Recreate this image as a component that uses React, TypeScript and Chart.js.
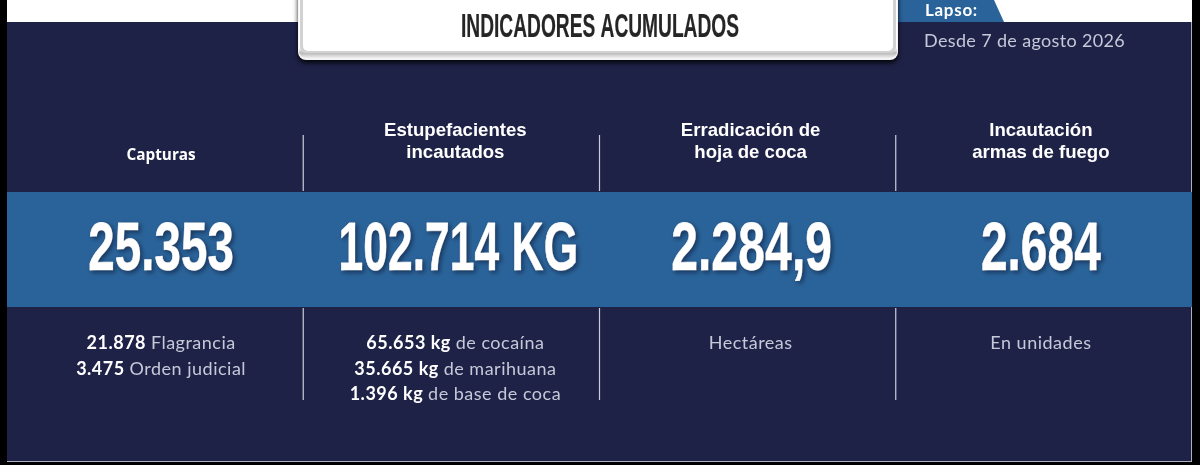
import React, { useEffect, useRef } from 'react';
import { Chart, registerables } from 'chart.js';

Chart.register(...registerables);

const categories = ['Capturas', 'Estupefacientes', 'Erradicación', 'Armas'];
const headerLines = [
  ['Capturas'],
  ['Estupefacientes', 'incautados'],
  ['Erradicación de', 'hoja de coca'],
  ['Incautación', 'armas de fuego'],
];
const totals = ['25.353', '102.714 KG', '2.284,9', '2.684'];
const detailLines = [
  [['21.878', 'Flagrancia'], ['3.475', 'Orden judicial']],
  [['65.653 kg', 'de cocaína'], ['35.665 kg', 'de marihuana'], ['1.396 kg', 'de base de coca']],
  [['', 'Hectáreas']],
  [['', 'En unidades']],
];
const chartTitle = 'INDICADORES ACUMULADOS';
const periodLabel = 'Lapso:';
const periodText = 'Desde 7 de agosto 2026';

// picture layout, y scale runs in page pixels
const bandRange = [192, 307];
const columnShift = [6, 4, 3, -3];
const totalShift = [0, 3, 1, 0];
const totalWidths = [146, 240, 161, 120];
const NAVY = '#1f2247';
const BLUE = '#2a6399';
const SOFT = '#c6c9d8';

const narrowFont = '"Liberation Sans Narrow", "Liberation Sans", sans-serif';
const bodyFont = 'Lato, "Open Sans", sans-serif';

function fitText(ctx: CanvasRenderingContext2D, text: string, cx: number, base: number, width: number, thick: number) {
  const natural = ctx.measureText(text).width;
  ctx.save();
  ctx.translate(cx, base);
  ctx.scale(width / natural, 1);
  ctx.textAlign = 'center';
  if (thick > 0) {
    ctx.lineWidth = thick;
    ctx.lineJoin = 'round';
    ctx.strokeStyle = ctx.fillStyle as string;
    ctx.strokeText(text, 0, 0);
  }
  ctx.fillText(text, 0, 0);
  ctx.restore();
}

const backdrop = {
  id: 'backdrop',
  beforeDraw(chart: any) {
    const ctx = chart.ctx;
    ctx.save();
    ctx.fillStyle = '#000';
    ctx.fillRect(0, 0, 1200, 465);
    ctx.fillStyle = '#fff';
    ctx.fillRect(7, 0, 1185, 22);
    ctx.fillStyle = BLUE;
    ctx.beginPath();
    ctx.moveTo(880, 0);
    ctx.lineTo(994, 0);
    ctx.lineTo(1004, 22);
    ctx.lineTo(880, 22);
    ctx.closePath();
    ctx.fill();
    ctx.fillStyle = NAVY;
    ctx.fillRect(7, 22, 1185, 439);
    ctx.fillStyle = '#aeb0bc';
    ctx.fillRect(7, 461, 1185, 1);
    ctx.fillRect(1191, 22, 1, 440);
    ctx.restore();
  },
};

const overlay = {
  id: 'overlay',
  afterDraw(chart: any) {
    const ctx: CanvasRenderingContext2D = chart.ctx;
    const x = chart.scales.x;
    const y = chart.scales.y;
    ctx.save();

    // dividers on the column boundaries
    ctx.strokeStyle = '#c9ccd8';
    ctx.lineWidth = 1.2;
    for (let i = 0; i < categories.length - 1; i++) {
      const px = (x.getPixelForValue(i) + x.getPixelForValue(i + 1)) / 2;
      ctx.beginPath();
      ctx.moveTo(px, y.getPixelForValue(135));
      ctx.lineTo(px, y.getPixelForValue(191));
      ctx.moveTo(px, y.getPixelForValue(308));
      ctx.lineTo(px, y.getPixelForValue(400));
      ctx.stroke();
    }

    // title plate
    ctx.save();
    ctx.shadowColor = 'rgba(0,0,0,0.85)';
    ctx.shadowBlur = 5;
    ctx.shadowOffsetY = 3;
    ctx.fillStyle = '#f4f4f4';
    ctx.beginPath();
    ctx.roundRect(298, -20, 600, 80, 8);
    ctx.fill();
    ctx.restore();
    const bevel = ctx.createLinearGradient(0, 48, 0, 58);
    bevel.addColorStop(0, '#ffffff');
    bevel.addColorStop(0.5, '#b9b9b9');
    bevel.addColorStop(1, '#efefef');
    ctx.fillStyle = bevel;
    ctx.beginPath();
    ctx.roundRect(299, -20, 598, 78, 7);
    ctx.fill();
    ctx.fillStyle = '#d2d2d2';
    ctx.beginPath();
    ctx.roundRect(300, -20, 596, 73, 6);
    ctx.fill();
    ctx.fillStyle = '#ffffff';
    ctx.beginPath();
    ctx.roundRect(303, -20, 590, 71, 5);
    ctx.fill();
    ctx.fillStyle = '#252525';
    ctx.font = `bold 33px ${narrowFont}`;
    fitText(ctx, chartTitle, 600, 37, 278, 0.2);

    // period
    ctx.textAlign = 'left';
    ctx.letterSpacing = '0.7px';
    ctx.fillStyle = '#ffffff';
    ctx.font = `bold 17px ${bodyFont}`;
    ctx.fillText(periodLabel, 925, 16);
    ctx.letterSpacing = '0.35px';
    ctx.fillStyle = SOFT;
    ctx.font = `18px ${bodyFont}`;
    ctx.fillText(periodText, 924, 47);
    ctx.letterSpacing = '0px';

    categories.forEach((_, i) => {
      const cx = x.getPixelForValue(i) + columnShift[i];

      // column header
      ctx.textAlign = 'center';
      ctx.fillStyle = '#ffffff';
      const lines = headerLines[i];
      if (lines.length === 1) {
        ctx.font = 'bold 15.3px "Open Sans"';
        ctx.fillText(lines[0], cx, y.getPixelForValue(160));
      } else {
        ctx.font = 'bold 18.6px "Liberation Sans"';
        ctx.fillText(lines[0], cx, y.getPixelForValue(136));
        ctx.fillText(lines[1], cx, y.getPixelForValue(158));
      }

      // big total
      ctx.save();
      ctx.shadowColor = 'rgba(10,20,50,0.55)';
      ctx.shadowBlur = 4;
      ctx.shadowOffsetX = 2;
      ctx.shadowOffsetY = 2;
      ctx.fillStyle = '#ffffff';
      ctx.font = `bold 69px ${narrowFont}`;
      fitText(ctx, totals[i], cx + totalShift[i], y.getPixelForValue(270), totalWidths[i], 0.8);
      ctx.restore();

      // detail rows, bold amount then soft label
      ctx.letterSpacing = '0.5px';
      detailLines[i].forEach((row, r) => {
        const base = y.getPixelForValue(349 + r * 25.5);
        const [amount, label] = row;
        ctx.font = `bold 18px ${bodyFont}`;
        const amountW = amount ? ctx.measureText(amount + ' ').width : 0;
        ctx.font = `18px ${bodyFont}`;
        const labelW = ctx.measureText(label).width;
        let left = cx - (amountW + labelW) / 2;
        ctx.textAlign = 'left';
        if (amount) {
          ctx.font = `bold 18px ${bodyFont}`;
          ctx.fillStyle = '#ffffff';
          ctx.fillText(amount, left, base);
          left += amountW;
        }
        ctx.font = `18px ${bodyFont}`;
        ctx.fillStyle = SOFT;
        ctx.fillText(label, left, base);
      });
      ctx.letterSpacing = '0px';
    });
    ctx.restore();
  },
};

export default function App() {
  const chartRef = useRef<HTMLCanvasElement | null>(null);

  useEffect(() => {
    document.body.style.margin = '0';
    const ctx = chartRef.current?.getContext('2d');
    if (!ctx) return;
    const chart = new Chart(ctx, {
      type: 'bar',
      data: {
        labels: categories,
        datasets: [
          {
            label: 'Banda',
            data: categories.map(() => bandRange),
            backgroundColor: BLUE,
            borderWidth: 0,
            barPercentage: 1,
            categoryPercentage: 1.01,
          },
        ],
      } as any,
      options: {
        responsive: false,
        animation: false,
        layout: { padding: { left: 7, right: 8, top: 0, bottom: 0 } },
        plugins: { legend: { display: false }, tooltip: { enabled: false } },
        scales: {
          x: { display: false },
          y: { display: false, reverse: true, min: 0, max: 465 },
        },
      },
      plugins: [backdrop, overlay],
    });
    return () => chart.destroy();
  }, []);

  return (
    <div style={{ position: 'absolute', left: 0, top: 0, width: 1200, height: 465 }}>
      <canvas ref={chartRef} width={1200} height={465} style={{ display: 'block' }}></canvas>
    </div>
  );
}
